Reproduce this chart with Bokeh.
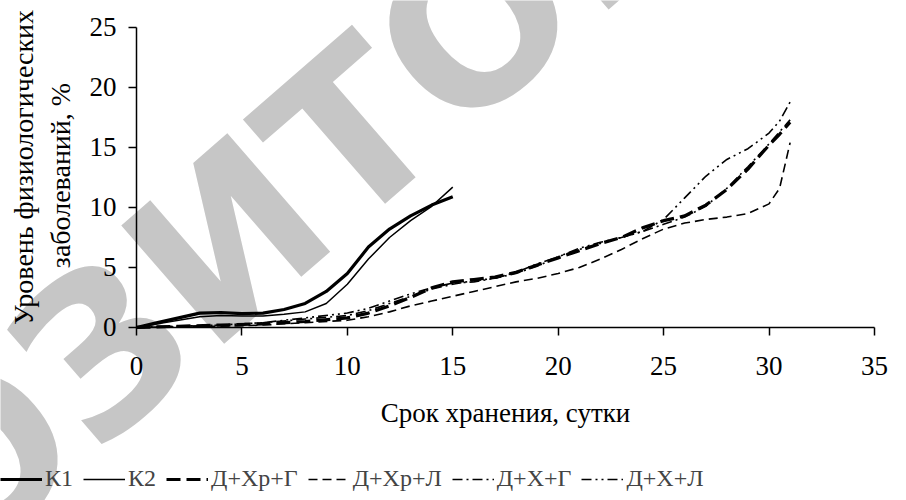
import math
from bokeh.plotting import figure
from bokeh.models import Range1d, Label, Legend, LegendItem, FixedTicker
from bokeh.embed import file_html
from bokeh.resources import INLINE

# ---- data ----
days_k = [0, 1, 2, 3, 4, 5, 6, 7, 8, 9, 10, 11, 12, 13, 14, 15]
k1 = [0, 0.4, 0.8, 1.2, 1.25, 1.15, 1.2, 1.5, 2.0, 3.0, 4.5, 6.7, 8.2, 9.3, 10.2, 10.9]
k2 = [0, 0.3, 0.6, 0.9, 1.0, 0.95, 0.95, 1.1, 1.3, 2.0, 3.6, 5.7, 7.5, 8.9, 10.1, 11.7]

days_d = [0, 2, 4, 6, 8, 10, 11, 12, 13, 14, 15, 16, 17, 18, 19, 20, 21, 22,
          23, 24, 25, 26, 27, 28, 29, 30, 30.5, 31]
d_xr_g = [0, 0.1, 0.2, 0.3, 0.5, 0.8, 1.2, 1.8, 2.5, 3.3, 3.8, 4.0, 4.2, 4.6,
          5.2, 5.8, 6.4, 7.0, 7.5, 8.3, 8.9, 9.3, 10.2, 11.5, 13.2, 15.2, 16.1, 17.1]
d_xr_l = [0, 0.05, 0.1, 0.2, 0.4, 0.6, 0.9, 1.3, 1.8, 2.2, 2.6, 3.0, 3.4, 3.8,
          4.1, 4.5, 5.0, 5.7, 6.5, 7.4, 8.2, 8.7, 9.0, 9.2, 9.5, 10.3, 11.6, 15.4]
d_x_g = [0, 0.1, 0.2, 0.4, 0.7, 1.0, 1.4, 2.0, 2.6, 3.2, 3.6, 3.9, 4.1, 4.5,
         5.1, 5.9, 6.5, 7.0, 7.5, 8.0, 8.6, 9.2, 10.1, 11.6, 13.4, 15.3, 16.3, 17.3]
d_x_l = [0, 0.1, 0.2, 0.4, 0.8, 1.2, 1.6, 2.2, 2.8, 3.3, 3.7, 3.8, 4.1, 4.6,
         5.3, 5.9, 6.6, 7.1, 7.5, 8.0, 9.0, 10.8, 12.6, 14.0, 14.9, 16.2, 17.2, 18.8]

series_names = ["К1", "К2", "Д+Хр+Г", "Д+Хр+Л", "Д+Х+Г", "Д+Х+Л"]
x_ticks = [0, 5, 10, 15, 20, 25, 30, 35]
y_ticks = [0, 5, 10, 15, 20, 25]
x_title = "Срок хранения, сутки"
y_title_1 = "Уровень физиологических"
y_title_2 = "заболеваний, %"
watermark = "РЕПОЗИТОРИЙ"

FONT = "Liberation Serif"

# The frame fills the whole canvas; axes are pinned at 0 so that titles,
# legend and watermark can sit anywhere on the page.
p = figure(output_backend="svg", toolbar_location=None,
           width=906, height=500,
           min_border_left=0, min_border_right=0,
           min_border_top=0, min_border_bottom=0,
           x_range=Range1d(-6.45, 36.52), y_range=Range1d(-14.42, 27.25))
p.outline_line_color = None
p.grid.visible = False
p.background_fill_color = "white"
p.border_fill_color = "white"

for ax in (p.xaxis[0], p.yaxis[0]):
    ax.fixed_location = 0
    ax.axis_line_color = "black"
    ax.axis_line_width = 1.5
    ax.major_tick_line_color = "black"
    ax.major_tick_line_width = 1.5
    ax.major_tick_out = 8
    ax.major_tick_in = 0
    ax.minor_tick_line_color = None
    ax.major_label_text_font = FONT
    ax.major_label_text_font_size = "27px"
    ax.major_label_text_color = "black"
p.xaxis[0].ticker = FixedTicker(ticks=x_ticks)
p.yaxis[0].ticker = FixedTicker(ticks=y_ticks)
p.xaxis[0].bounds = (0, 35)
p.yaxis[0].bounds = (0, 25)
p.xaxis[0].major_label_standoff = 22
p.yaxis[0].major_label_standoff = 12

# watermark
wm = Label(x=238, y=268, x_units="screen", y_units="screen", text=watermark,
           angle=math.radians(41), text_align="center", text_baseline="middle",
           text_font="DejaVu Sans", text_font_style="bold",
           text_font_size="215px", text_color="#c6c6c6", level="underlay")
p.add_layout(wm)

r1 = p.line(days_k, k1, line_color="black", line_width=3.2)
r2 = p.line(days_k, k2, line_color="black", line_width=1.5)
r3 = p.line(days_d, d_xr_g, line_color="black", line_width=3.2, line_dash="14 6")
r4 = p.line(days_d, d_xr_l, line_color="black", line_width=1.6, line_dash="9 5")
r5 = p.line(days_d, d_x_g, line_color="black", line_width=1.6, line_dash="10 4 2 4")
r6 = p.line(days_d, d_x_l, line_color="black", line_width=1.6, line_dash="10 4 2 4 2 4")

# axis titles
p.add_layout(Label(x=505, y=88, x_units="screen", y_units="screen", text=x_title,
                   text_align="center", text_baseline="middle", text_font=FONT,
                   text_font_size="27px", text_color="black"))
p.add_layout(Label(x=23, y=333, x_units="screen", y_units="screen", text=y_title_1,
                   angle=math.pi / 2, text_align="center", text_baseline="middle",
                   text_font=FONT, text_font_size="28px", text_color="black"))
p.add_layout(Label(x=60, y=325, x_units="screen", y_units="screen", text=y_title_2,
                   angle=math.pi / 2, text_align="center", text_baseline="middle",
                   text_font=FONT, text_font_size="28px", text_color="black"))

legend = Legend(items=[LegendItem(label=n, renderers=[r]) for n, r in
                       zip(series_names, [r1, r2, r3, r4, r5, r6])],
                orientation="horizontal", location=(0, 8),
                glyph_width=42, glyph_height=20, label_height=20,
                label_standoff=3, spacing=10, padding=0, margin=0,
                label_text_font=FONT, label_text_font_size="24px",
                border_line_alpha=0, background_fill_alpha=0)
p.add_layout(legend, "center")

open("out.html", "w").write(file_html(p, INLINE))
